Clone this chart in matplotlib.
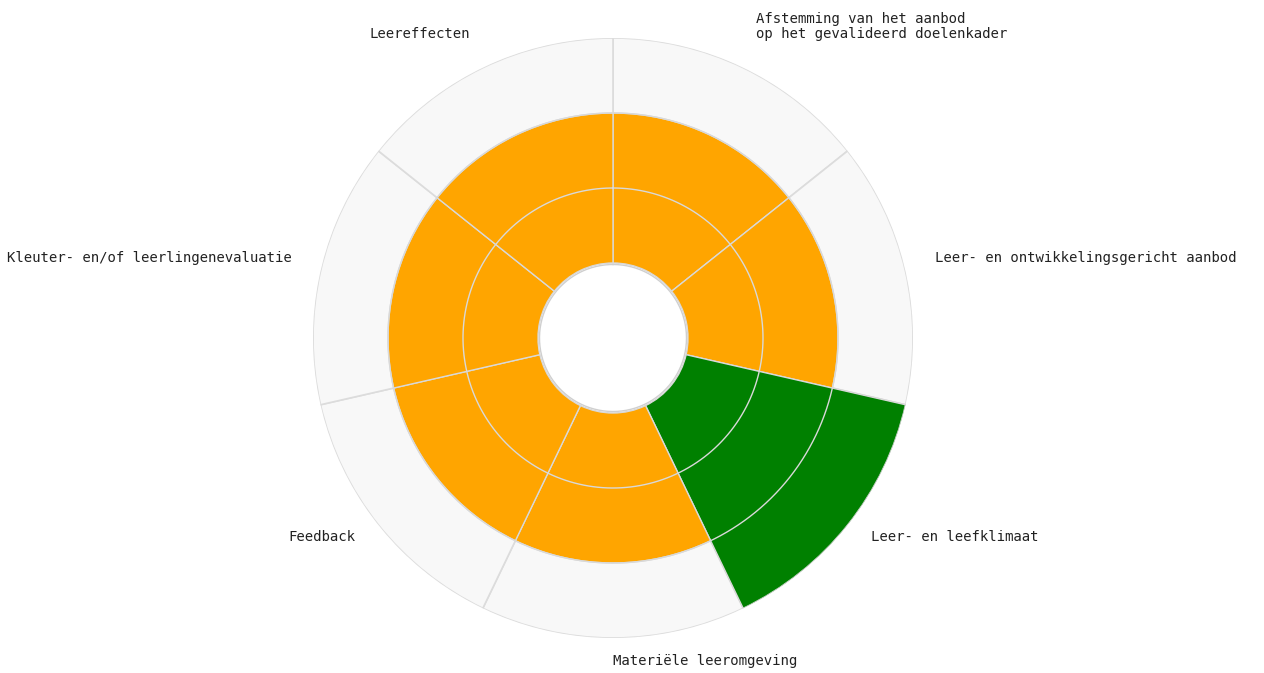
import numpy as np
import matplotlib
matplotlib.use("Agg")
import matplotlib.pyplot as plt

categories = [
    "Afstemming van het aanbod\nop het gevalideerd doelenkader",
    "Leer- en ontwikkelingsgericht aanbod",
    "Leer- en leefklimaat",
    "Materiële leeromgeving",
    "Feedback",
    "Kleuter- en/of leerlingenevaluatie",
    "Leereffecten",
]
values = [3, 3, 4, 3, 3, 3, 3]
colors = ["#FFA500", "#FFA500", "#008000", "#FFA500", "#FFA500", "#FFA500", "#FFA500"]
scale_min = 1
scale_max = 4
grid_levels = [2, 3]

fig = plt.figure(figsize=(12.64, 6.73), dpi=100)
cx, cy, R = 613, 338, 300
W, H = 1264, 673
ax = fig.add_axes([(cx - R) / W, (H - cy - R) / H, 2 * R / W, 2 * R / H], projection="polar")
ax.set_theta_zero_location("N")
ax.set_theta_direction(-1)
ax.set_ylim(0, scale_max)

n = len(categories)
width = 2 * np.pi / n
theta = np.arange(n) * width + width / 2

# background sectors
ax.bar(theta, [scale_max - scale_min] * n, width=width, bottom=scale_min,
       color="#f8f8f8", edgecolor="#dcdcdc", linewidth=1.2, zorder=1)
# value bars
ax.bar(theta, np.array(values) - scale_min, width=width, bottom=scale_min,
       color=colors, edgecolor="#d9d9d9", linewidth=1.0, zorder=2)
# grid circles
tt = np.linspace(0, 2 * np.pi, 400)
for lv in grid_levels:
    ax.plot(tt, [lv] * len(tt), color="#d9d9d9", linewidth=1.0, zorder=3)
# inner hole
ax.fill(tt, [scale_min * 0.98] * len(tt), color="white", zorder=4)
ax.plot(tt, [scale_min * 0.98] * len(tt), color="#cfcfcf", linewidth=1.0, zorder=5)

ax.set_axis_off()

label_r = 4.4
for t, lab in zip(theta, categories):
    s = np.sin(t)
    ha = "left" if s >= -1e-6 else "right"
    ax.text(t, label_r, lab, ha=ha, va="bottom", fontsize=10.1,
            family="DejaVu Sans Mono", color="#222222", linespacing=1.1)

fig.savefig("out.png", dpi=100)
